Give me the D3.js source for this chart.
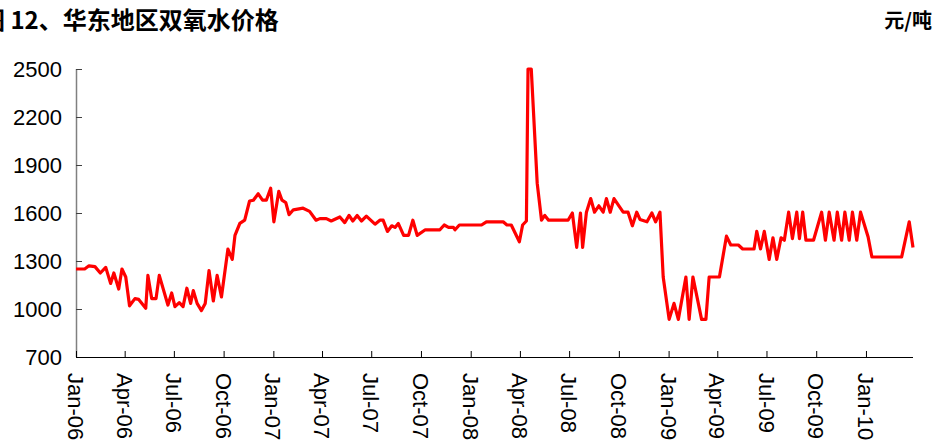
<!DOCTYPE html>
<html><head><meta charset="utf-8">
<script src="https://cdn.jsdelivr.net/npm/d3@7"></script>
<style>body{margin:0;background:#fff}svg{display:block}</style>
</head><body>
<svg id="c" width="944" height="444"></svg>
<script>
const titleText = "图 12、华东地区双氧水价格";
const unitText = "元/吨";
const dates = [
"2006-01-01","2006-01-17","2006-01-25","2006-02-05","2006-02-15","2006-02-25","2006-03-06","2006-03-12","2006-03-21","2006-03-27",
"2006-04-03","2006-04-10","2006-04-20","2006-04-27","2006-05-10","2006-05-14","2006-05-21","2006-05-29","2006-06-04","2006-06-20",
"2006-06-27","2006-07-03","2006-07-11","2006-07-18","2006-07-25","2006-08-01","2006-08-06","2006-08-13","2006-08-21","2006-08-28",
"2006-09-04","2006-09-12","2006-09-19","2006-09-27","2006-10-09","2006-10-17","2006-10-22","2006-10-31","2006-11-09","2006-11-18",
"2006-11-25","2006-12-04","2006-12-12","2006-12-19","2006-12-27","2007-01-02","2007-01-11","2007-01-17","2007-01-24","2007-01-30",
"2007-02-07","2007-02-25","2007-03-09","2007-03-21","2007-03-28","2007-04-09","2007-04-18","2007-05-04","2007-05-13","2007-05-21",
"2007-05-28","2007-06-05","2007-06-13","2007-06-22","2007-07-08","2007-07-17","2007-07-23","2007-07-31","2007-08-08","2007-08-14",
"2007-08-20","2007-08-30","2007-09-08","2007-09-16","2007-09-24","2007-10-09","2007-11-05","2007-11-13","2007-11-21","2007-11-30",
"2007-12-03","2007-12-11","2008-01-21","2008-01-30","2008-03-01","2008-03-08","2008-03-16","2008-03-31","2008-04-06","2008-04-13",
"2008-04-16","2008-04-22","2008-05-03","2008-05-11","2008-05-17","2008-05-24","2008-06-29","2008-07-07","2008-07-15","2008-07-22",
"2008-07-26","2008-08-02","2008-08-10","2008-08-17","2008-08-25","2008-09-02","2008-09-08","2008-09-15","2008-09-22","2008-10-02",
"2008-10-09","2008-10-18","2008-10-26","2008-11-03","2008-11-09","2008-11-22","2008-12-01","2008-12-08","2008-12-16","2008-12-22",
"2009-01-02","2009-01-11","2009-01-19","2009-02-02","2009-02-08","2009-02-15","2009-03-03","2009-03-11","2009-03-17","2009-04-05",
"2009-04-18","2009-04-26","2009-05-10","2009-05-18","2009-06-08","2009-06-13","2009-06-20","2009-06-27","2009-07-06","2009-07-13",
"2009-07-20","2009-07-28","2009-08-03","2009-08-11","2009-08-18","2009-08-26","2009-08-31","2009-09-06","2009-09-12","2009-09-26",
"2009-10-11","2009-10-18","2009-10-25","2009-11-03","2009-11-09","2009-11-17","2009-11-23","2009-12-01","2009-12-07","2009-12-15",
"2009-12-22","2010-01-05","2010-01-12","2010-03-08","2010-03-22","2010-03-29"
];
const prices = [
1250,1250,1270,1265,1225,1260,1160,1225,1125,1250,
1200,1020,1065,1060,1005,1210,1065,1065,1210,1025,
1100,1015,1040,1015,1130,1035,1115,1035,990,1035,
1240,1050,1210,1075,1375,1310,1460,1535,1555,1675,
1680,1720,1680,1680,1755,1545,1735,1680,1665,1590,
1620,1630,1610,1555,1565,1565,1550,1575,1540,1585,
1550,1585,1550,1580,1530,1555,1555,1485,1520,1510,
1535,1460,1460,1555,1460,1495,1495,1525,1510,1510,
1495,1525,1525,1545,1545,1525,1525,1420,1525,1550,
2500,2500,1785,1555,1585,1555,1555,1600,1385,1600,
1385,1605,1690,1605,1645,1605,1690,1605,1690,1640,
1605,1605,1520,1605,1560,1545,1600,1545,1605,1200,
935,1035,935,1200,935,1200,935,935,1200,1200,
1455,1400,1400,1375,1375,1485,1375,1485,1310,1445,
1310,1445,1430,1605,1440,1605,1440,1605,1430,1430,
1605,1430,1605,1430,1605,1430,1605,1430,1605,1430,
1605,1450,1325,1325,1545,1385
];
const yTicks = [700,1000,1300,1600,1900,2200,2500];
const xTickLabels = ["Jan-06","Apr-06","Jul-06","Oct-06","Jan-07","Apr-07","Jul-07","Oct-07","Jan-08","Apr-08","Jul-08","Oct-08","Jan-09","Apr-09","Jul-09","Oct-09","Jan-10"];

const parse = d3.timeParse("%Y-%m-%d");
const parseTick = d3.timeParse("%b-%y");
const data = dates.map((d,i)=>({date:parse(d), value:prices[i]}));

const svg = d3.select("#c");
const mLeft = 76, mRight = 913, mTop = 69, mBottom = 357;
const x = d3.scaleTime().domain([parse(dates[0]), parse(dates[dates.length-1])]).range([mLeft, mRight]);
const y = d3.scaleLinear().domain([700,2500]).range([mBottom, mTop]);

// title (left part cut off at the edge, as in the reference)
svg.append("text").attr("x", -19).attr("y", 29)
  .attr("font-family", "'Noto Sans CJK SC', sans-serif").attr("font-weight", "bold")
  .attr("font-size", 24).attr("fill", "#000").text(titleText);
svg.append("text").attr("x", 932).attr("y", 28).attr("text-anchor","end")
  .attr("font-family", "'Noto Sans CJK SC', sans-serif").attr("font-weight", "bold")
  .attr("font-size", 20).attr("fill", "#000").text(unitText);

// y axis
const yAxis = svg.append("g").attr("transform", `translate(${mLeft},0)`)
  .call(d3.axisRight(y).tickValues(yTicks).tickSize(6).tickFormat(""));
yAxis.select(".domain").attr("stroke", "#808080").attr("stroke-width", 1.5)
  .attr("d", `M0.5,${mTop}V${mBottom}`);
yAxis.selectAll(".tick line").attr("stroke", "#404040").attr("stroke-width", 1);
svg.append("g").selectAll("text").data(yTicks).join("text")
  .attr("x", 62).attr("y", d => y(d)).attr("dy", "0.36em")
  .attr("text-anchor", "end").attr("font-family", "'Liberation Sans', Arial, sans-serif")
  .attr("font-size", 22).attr("fill", "#000").text(d => d);

// x axis
const xTickDates = xTickLabels.map(parseTick);
const xAxis = svg.append("g").attr("transform", `translate(0,${mBottom})`)
  .call(d3.axisTop(x).tickValues(xTickDates).tickSize(6).tickFormat(""));
xAxis.select(".domain").attr("stroke", "#000").attr("stroke-width", 1.2)
  .attr("d", `M${mLeft},0.5H${mRight}`);
xAxis.selectAll(".tick line").attr("stroke", "#000");
svg.append("g").selectAll("text").data(xTickDates).join("text")
  .attr("transform", d => `translate(${x(d)},${mBottom + 16}) rotate(90)`)
  .attr("dy", "0.36em").attr("font-family", "'Liberation Sans', Arial, sans-serif")
  .attr("font-size", 22).attr("fill", "#000").text((d,i) => xTickLabels[i]);

// line
svg.append("path").datum(data)
  .attr("fill", "none").attr("stroke", "#ff0000").attr("stroke-width", 3.2)
  .attr("stroke-linejoin", "round")
  .attr("d", d3.line().x(d => x(d.date)).y(d => y(d.value)));
</script>
</body></html>
